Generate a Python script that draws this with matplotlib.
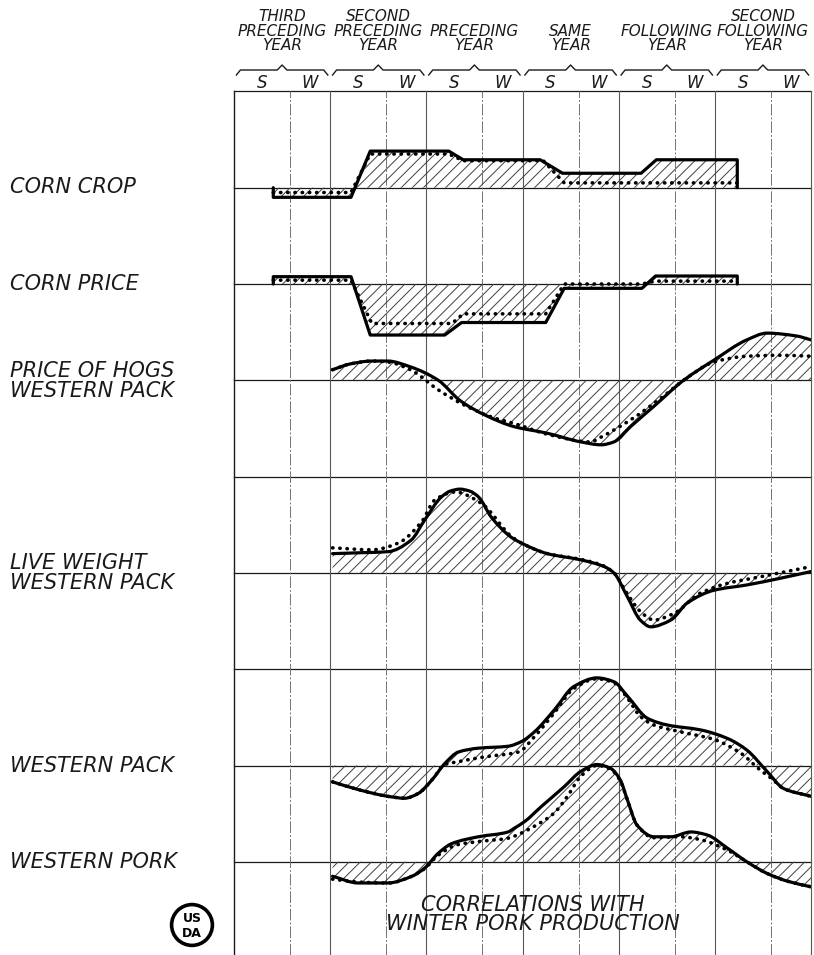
import numpy as np
import matplotlib
matplotlib.use('Agg')
import matplotlib.pyplot as plt
from matplotlib.patches import Circle, PathPatch
from matplotlib.path import Path

# x axis: months from start of the third preceding year
# each year = 7 summer months (S) + 5 winter months (W)
year_labels = ['THIRD\nPRECEDING\nYEAR', 'SECOND\nPRECEDING\nYEAR', 'PRECEDING\nYEAR',
               'SAME\nYEAR', 'FOLLOWING\nYEAR', 'SECOND\nFOLLOWING\nYEAR']
season_labels = ['S', 'W']
row_labels = ['CORN CROP', 'CORN PRICE', 'PRICE OF HOGS\nWESTERN PACK',
              'LIVE WEIGHT\nWESTERN PACK', 'WESTERN PACK', 'WESTERN PORK']
footer = 'CORRELATIONS WITH\nWINTER PORK PRODUCTION'

# corn crop
crop_x = [4.9, 4.9, 14.6, 17.0, 26.8, 28.6, 38.2, 41.0, 50.8, 52.7, 62.8, 62.8]
crop_solid = [0, -0.10, -0.10, 0.38, 0.38, 0.29, 0.29, 0.15, 0.15, 0.29, 0.29, 0]
crop_dot_x = [4.9, 14.6, 17.0, 26.8, 28.6, 38.6, 41.2, 62.8]
crop_dot = [-0.05, -0.05, 0.35, 0.35, 0.28, 0.28, 0.05, 0.05]

# corn price
cprice_x = [4.9, 4.9, 14.6, 17.0, 26.3, 28.4, 38.9, 41.2, 50.9, 52.6, 62.8, 62.8]
cprice_solid = [0, 0.076, 0.076, -0.53, -0.53, -0.40, -0.40, -0.045, -0.045, 0.083, 0.083, 0]
cprice_dot_x = [4.9, 14.6, 17.2, 27.2, 28.6, 38.9, 41.2, 50.9, 52.6, 62.8]
cprice_dot = [0.04, 0.04, -0.41, -0.41, -0.31, -0.31, 0.0, 0.0, 0.03, 0.03]

# price of hogs
hogs_x = [12.3, 14.5, 17.2, 19.2, 22.0, 25.5, 28.2, 31.3, 34.9, 39.1, 43.3, 45.8,
          47.4, 49.5, 52.4, 56.1, 59.9, 64.0, 66.5, 70.2, 72.0]
hogs_solid = [0.11, 0.17, 0.20, 0.20, 0.14, 0.0, -0.21, -0.36, -0.48, -0.55, -0.64, -0.67,
              -0.64, -0.48, -0.27, 0.0, 0.21, 0.42, 0.49, 0.46, 0.42]
hogs_dot_x = [12.3, 14.5, 17.2, 19.2, 22.0, 25.5, 28.8, 32.1, 35.4, 39.1, 44.5, 45.8,
              49.5, 53.2, 56.1, 59.9, 64.0, 68.2, 72.0]
hogs_dot = [0.11, 0.17, 0.20, 0.19, 0.11, -0.10, -0.26, -0.38, -0.46, -0.56, -0.64, -0.59,
            -0.41, -0.19, 0.0, 0.19, 0.25, 0.26, 0.25]

# live weight
live_x = [12.3, 16.0, 19.2, 22.1, 23.8, 25.9, 27.0, 28.2, 29.4, 30.5, 32.1, 34.6, 36.1,
          39.1, 43.3, 46.2, 47.4, 49.1, 50.7, 52.0, 54.5, 56.6, 59.9, 64.0, 68.2, 72.0]
live_solid = [0.20, 0.21, 0.22, 0.34, 0.55, 0.79, 0.85, 0.87, 0.85, 0.79, 0.58, 0.37, 0.30,
              0.20, 0.135, 0.065, 0.0, -0.25, -0.49, -0.56, -0.49, -0.31, -0.18, -0.125, -0.055, 0.014]
live_dot_x = [12.3, 17.2, 20.5, 23.4, 25.1, 27.6, 30.9, 34.6, 36.1, 39.1, 43.3, 46.2,
              47.4, 49.1, 50.7, 52.4, 54.9, 58.2, 61.5, 65.7, 72.0]
live_dot = [0.26, 0.24, 0.31, 0.53, 0.76, 0.84, 0.72, 0.38, 0.30, 0.20, 0.14, 0.07,
            0.0, -0.22, -0.40, -0.49, -0.42, -0.21, -0.11, -0.04, 0.065]

# western pack
pack_x = [12.3, 15.5, 19.2, 21.3, 23.0, 24.7, 26.3, 28.0, 30.5, 34.2, 35.9, 37.5, 40.0,
          42.4, 45.3, 47.4, 49.1, 51.6, 54.1, 58.2, 61.6, 64.0, 66.5, 68.6, 72.0]
pack_solid = [-0.17, -0.25, -0.32, -0.34, -0.29, -0.15, 0.02, 0.14, 0.18, 0.20, 0.25, 0.35, 0.58,
              0.82, 0.91, 0.87, 0.72, 0.49, 0.42, 0.37, 0.28, 0.16, -0.06, -0.24, -0.32]
pack_dot_x = [12.3, 15.5, 19.2, 21.3, 23.0, 24.7, 26.3, 28.0, 31.3, 35.5, 37.5, 40.0, 42.4,
              45.3, 47.4, 49.1, 50.7, 52.4, 55.7, 59.9, 63.2, 65.7, 67.0, 68.6, 72.0]
pack_dot = [-0.17, -0.25, -0.32, -0.34, -0.29, -0.15, 0.01, 0.04, 0.09, 0.14, 0.30, 0.55, 0.80,
            0.90, 0.86, 0.70, 0.51, 0.42, 0.35, 0.27, 0.13, -0.05, -0.13, -0.24, -0.32]

# western pork
pork_x = [12.3, 15.5, 19.2, 22.2, 23.8, 25.5, 27.2, 30.5, 34.2, 35.0, 36.3, 38.3, 41.2, 43.3,
          45.3, 47.0, 48.2, 49.1, 50.3, 52.4, 54.5, 57.0, 59.0, 61.6, 64.0, 66.5, 69.0, 72.0]
pork_solid = [-0.15, -0.22, -0.22, -0.15, -0.065, 0.09, 0.19, 0.26, 0.31, 0.35, 0.42, 0.57, 0.78,
              0.94, 1.01, 0.97, 0.85, 0.64, 0.38, 0.26, 0.26, 0.31, 0.28, 0.14, 0.0, -0.12, -0.20, -0.26]
pork_dot_x = [12.3, 15.5, 19.2, 22.2, 23.8, 25.5, 28.0, 30.5, 34.2, 35.9, 37.5, 40.0, 41.6,
              43.3, 45.3, 47.0, 48.2, 49.1, 50.3, 52.4, 55.7, 58.2, 61.6, 64.0, 66.5, 69.0, 72.0]
pork_dot = [-0.18, -0.21, -0.22, -0.15, -0.07, 0.07, 0.18, 0.21, 0.245, 0.30, 0.37, 0.51, 0.68,
            0.89, 1.0, 0.96, 0.84, 0.64, 0.38, 0.25, 0.26, 0.23, 0.12, 0.0, -0.12, -0.20, -0.26]

# baselines, in grid rows below the top border
baselines = [-1, -2, -3, -5, -7, -8]
series = [
    (crop_x, crop_solid, crop_dot_x, crop_dot, False),
    (cprice_x, cprice_solid, cprice_dot_x, cprice_dot, False),
    (hogs_x, hogs_solid, hogs_dot_x, hogs_dot, True),
    (live_x, live_solid, live_dot_x, live_dot, True),
    (pack_x, pack_solid, pack_dot_x, pack_dot, True),
    (pork_x, pork_solid, pork_dot_x, pork_dot, True),
]

W, H = 814, 955
ROW = 96.3      # px per grid row
TOP = 91.4      # px of top border
LEFT, RIGHT = 234, 811

plt.rcParams['hatch.linewidth'] = 0.7
font = dict(family='DejaVu Sans', style='oblique', color='#1a1a1a')


def curve_path(x, y, smooth):
    # path through the points; smooth ones drawn as cubic Bezier (monotone Hermite tangents)
    x = np.asarray(x, float)
    y = np.asarray(y, float)
    if not smooth:
        return list(zip(x, y)), [Path.MOVETO] + [Path.LINETO] * (len(x) - 1)
    h = np.diff(x)
    d = np.diff(y) / h
    m = np.zeros_like(y)
    m[0], m[-1] = d[0], d[-1]
    for i in range(1, len(x) - 1):
        if d[i - 1] * d[i] > 0:
            w1 = 2 * h[i] + h[i - 1]
            w2 = h[i] + 2 * h[i - 1]
            m[i] = (w1 + w2) / (w1 / d[i - 1] + w2 / d[i])
    verts = [(x[0], y[0])]
    codes = [Path.MOVETO]
    for i in range(len(x) - 1):
        verts += [(x[i] + h[i] / 3, y[i] + m[i] * h[i] / 3),
                  (x[i + 1] - h[i] / 3, y[i + 1] - m[i + 1] * h[i] / 3),
                  (x[i + 1], y[i + 1])]
        codes += [Path.CURVE4] * 3
    return verts, codes


fig = plt.figure(figsize=(W / 100, H / 100), dpi=100)
fig.patch.set_facecolor('white')
ax = fig.add_axes([LEFT / W, 0, (RIGHT - LEFT) / W, (H - TOP) / H])
ax.set_xlim(0, 72)
ax.set_ylim(-(H - TOP) / ROW, 0)
ax.axis('off')


def py(px):
    # header pixel row -> data y above the top border
    return (TOP - px) / ROW


# grid
for k in range(0, 9):
    ax.axhline(-k, color='0.1', lw=0.9, zorder=1, clip_on=False)
for m in range(0, 73, 12):
    ax.axvline(m, color='0.1' if m == 0 else '0.35', lw=1.0 if m == 0 else 0.8,
               zorder=1, clip_on=False)
for m in range(7, 72, 12):
    ax.axvline(m, color='0.45', lw=0.7, ls=(0, (12, 2, 2, 2)), zorder=1)

# curves
for base, (sx, sv, dx, dv, smooth) in zip(baselines, series):
    verts, codes = curve_path(sx, base + np.array(sv), smooth)
    fill_verts = verts + [(sx[-1], base), (sx[0], base), verts[0]]
    fill_codes = codes + [Path.LINETO, Path.LINETO, Path.CLOSEPOLY]
    ax.add_patch(PathPatch(Path(fill_verts, fill_codes), facecolor='none', edgecolor='0.25',
                           hatch='///', linewidth=0, zorder=2))
    ax.add_patch(PathPatch(Path(verts, codes), facecolor='none', edgecolor='black',
                           lw=2.3, joinstyle='round', capstyle='round', zorder=4))
    dverts, dcodes = curve_path(dx, base + np.array(dv), smooth)
    ax.add_patch(PathPatch(Path(dverts, dcodes), facecolor='none', edgecolor='black',
                           lw=2.6, ls=(0, (0.1, 1.9)), capstyle='round', zorder=5))

# header: year labels, braces and season letters
for i, lab in enumerate(year_labels):
    x0 = 12 * i
    ax.text(x0 + 6, py(53), lab, ha='center', va='bottom', fontsize=11,
            linespacing=0.95, **font)
    bx = [x0 + 0.3, x0 + 0.8, x0 + 5.4, x0 + 6, x0 + 6.6, x0 + 11.2, x0 + 11.7]
    by = [py(75), py(70), py(70), py(65), py(70), py(70), py(75)]
    ax.plot(bx, by, color='#1a1a1a', lw=1.0, clip_on=False)
    ax.text(x0 + 3.5, py(83), season_labels[0], ha='center', va='center', fontsize=12, **font)
    ax.text(x0 + 9.5, py(83), season_labels[1], ha='center', va='center', fontsize=12, **font)

# row labels on the left
row_y = [187, 284, 381, 573, 766, 862]
for lab, y in zip(row_labels, row_y):
    fig.text(10 / W, 1 - y / H, lab, ha='left', va='center', fontsize=15,
             linespacing=0.95, **font)

ax.text(37.3, -(914.5 - TOP) / ROW, footer, ha='center', va='center', fontsize=15,
        linespacing=0.95, **font)

# USDA seal
seal = fig.add_axes([(192 - 24) / W, 1 - (925 + 24) / H, 48 / W, 48 / H])
seal.set_xlim(-1, 1)
seal.set_ylim(-1, 1)
seal.set_aspect('equal')
seal.axis('off')
seal.add_patch(Circle((0, 0), 0.85, facecolor='white', edgecolor='black', lw=2.6))
seal.text(0, 0.28, 'US', ha='center', va='center', fontsize=9, weight='bold', family='DejaVu Sans')
seal.text(0, -0.35, 'DA', ha='center', va='center', fontsize=9, weight='bold', family='DejaVu Sans')

fig.savefig('out.png', dpi=100, facecolor='white')
